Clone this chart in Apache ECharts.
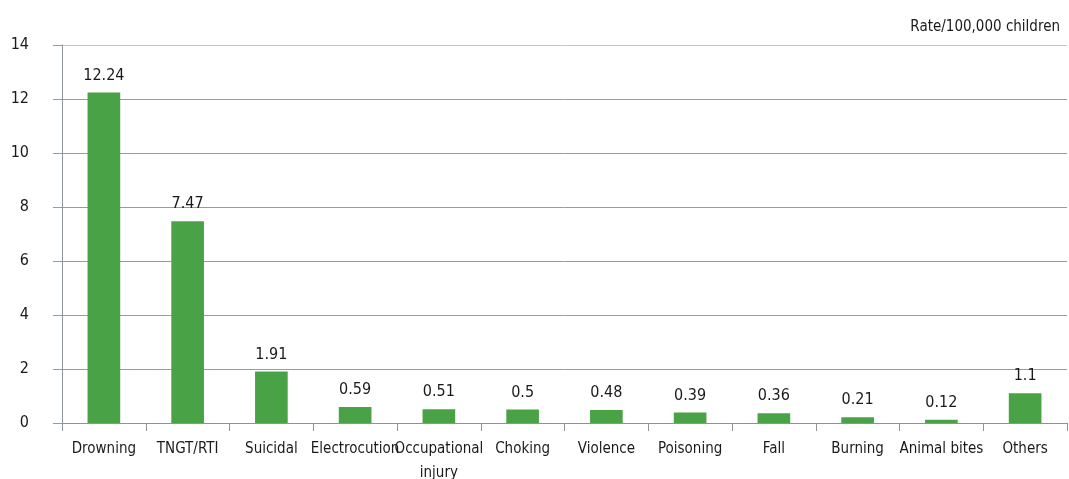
<!DOCTYPE html>
<html>
<head>
<meta charset="utf-8">
<script src="https://cdn.jsdelivr.net/npm/echarts@6/dist/echarts.min.js"></script>
<style>
  html, body { margin: 0; padding: 0; background: #ffffff; }
  #chart { width: 1069px; height: 479px; }
</style>
</head>
<body>
<div id="chart"></div>
<script>
// Injury death rates among children, per 100,000
const categories = ['Drowning', 'TNGT/RTI', 'Suicidal', 'Electrocution', 'Occupational\ninjury', 'Choking', 'Violence', 'Poisoning', 'Fall', 'Burning', 'Animal bites', 'Others'];
const rates = [12.24, 7.47, 1.91, 0.59, 0.51, 0.5, 0.48, 0.39, 0.36, 0.21, 0.12, 1.1];
const unitLabel = 'Rate/100,000 children';

const font = '"Liberation Sans Narrow", "DejaVu Sans Condensed", sans-serif';

const chart = echarts.init(document.getElementById('chart'), null, { renderer: 'canvas' });
chart.setOption({
  animation: false,
  backgroundColor: '#ffffff',
  title: {
    text: unitLabel,
    right: 4,
    top: 15,
    textStyle: { fontFamily: font, fontSize: 15, fontWeight: 'normal', color: '#1a1a1a' }
  },
  grid: { left: 62, right: 2, top: 45, bottom: 56, containLabel: false, outerBoundsMode: 'none' },
  xAxis: {
    type: 'category',
    data: categories,
    axisLine: { lineStyle: { color: '#8c9399', width: 1 } },
    axisTick: { show: true, length: 8, lineStyle: { color: '#8c9399' } },
    axisLabel: {
      fontFamily: font, fontSize: 15, color: '#1a1a1a', margin: 14,
      interval: 0, lineHeight: 24
    }
  },
  yAxis: {
    type: 'value',
    min: 0, max: 14, interval: 2,
    axisLine: { show: true, lineStyle: { color: '#8c9399' } },
    axisTick: { show: true, length: 9, lineStyle: { color: '#9a9a9a' } },
    splitLine: {
      lineStyle: {
        // the uppermost rule is paler than the others
        color: ['#9a9a9a', '#9a9a9a', '#9a9a9a', '#9a9a9a', '#9a9a9a', '#9a9a9a', '#9a9a9a', '#bfc4c9'],
        width: 1
      }
    },
    axisLabel: {
      fontFamily: font, fontSize: 16, color: '#1a1a1a', margin: 33, align: 'right',
      padding: [3, 0, 0, 0]
    }
  },
  series: [{
    type: 'bar',
    data: rates,
    barWidth: '39%',
    itemStyle: { color: '#4aa247' },
    label: {
      show: true, position: 'top', distance: 9,
      fontFamily: font, fontSize: 16, color: '#1a1a1a'
    }
  }]
});
</script>
</body>
</html>
